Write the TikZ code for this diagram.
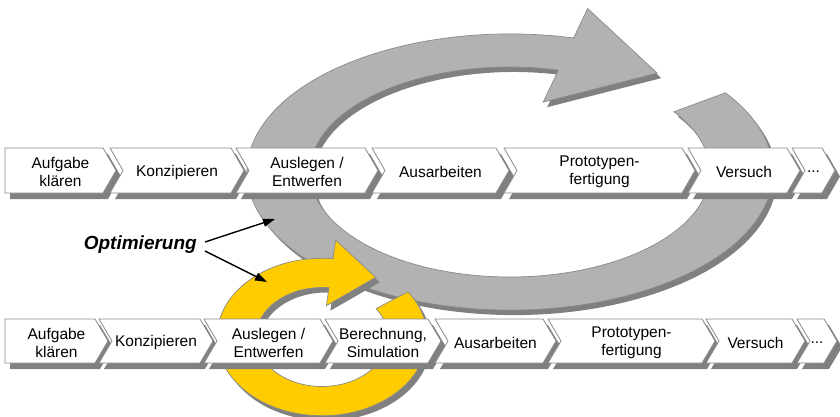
\documentclass[tikz,border=0pt]{standalone}
\usepackage{fontspec}
\setmainfont{Liberation Sans}
\usetikzlibrary{arrows.meta}
\definecolor{ringgray}{HTML}{B2B2B2}
\definecolor{shadowgray}{HTML}{808080}
\definecolor{edgegray}{HTML}{8A8A8A}
\definecolor{ringyellow}{HTML}{FFCC00}
\tikzset{
  ringfill/.style={fill=ringgray, draw=edgegray, line width=0.7pt},
  yellowfill/.style={fill=ringyellow, draw=edgegray, line width=0.7pt},
  shadowfill/.style={fill=shadowgray},
  boxfill/.style={fill=white, draw=edgegray, line width=0.8pt},
  boxtext/.style={align=center, font=\fontsize{15.5}{18}\selectfont, inner sep=0pt},
  opttext/.style={font=\fontsize{19}{22}\selectfont\bfseries\itshape, inner sep=0pt},
  optarrow/.style={line width=1.4pt, -{Triangle[length=12pt,width=8pt]}},
  graycs/.style={shift={(510,172)}, yscale=0.525},
  yellowcs/.style={shift={(322,337)}, yscale=0.75},
  ringshadow/.style={shift={(4,5)}},
  boxshadow/.style={shift={(5,6)}},
}
% name, left x, right-top x, top y, bottom y, notch depth, text
\newcommand\chevbox[7]{%
  \fill[shadowfill, boxshadow] (#2,#4) -- (#3,#4) -- ({#3+13},{(#4+#5)/2}) -- (#3,#5) -- (#2,#5) -- ({#2+#6},{(#4+#5)/2}) -- cycle;
  \draw[boxfill] (#2,#4) -- (#3,#4) -- ({#3+13},{(#4+#5)/2}) -- (#3,#5) -- (#2,#5) -- ({#2+#6},{(#4+#5)/2}) -- cycle;
  \node[boxtext] (#1) at ({(#2+#3+13)/2},{(#4+#5)/2+1.5}) {#7};
}
\newcommand\grayringpath{(-35:263) arc[start angle=-35, end angle=284, radius=263] -- (284:321) -- (-52:239) -- (284:137) -- (284:200) arc[start angle=284, end angle=-35, radius=200] -- cycle}
\newcommand\yellowringpath{(-35:105) arc[start angle=-35, end angle=276, radius=105] -- (276:130) -- (-56:96) -- (276:42) -- (276:66) arc[start angle=276, end angle=-35, radius=66] -- cycle}
\begin{document}
\begin{tikzpicture}[x=1pt, y=-1pt]
\useasboundingbox (0,0) rectangle (840,417);
% big grey cycle
\fill[shadowfill, ringshadow, graycs] \grayringpath;
\draw[ringfill, graycs] \grayringpath;
% yellow cycle
\fill[shadowfill, ringshadow, yellowcs] \yellowringpath;
\draw[yellowfill, yellowcs] \yellowringpath;
% top process row
\chevbox{t1}{5}{103}{148}{193}{0}{Aufgabe\\klären}
\chevbox{t2}{110}{231}{148}{193}{13}{Konzipieren}
\chevbox{t3}{236}{365}{148}{193}{13}{Auslegen /\\Entwerfen}
\chevbox{t4}{372}{496}{148}{193}{13}{Ausarbeiten}
\chevbox{t5}{504}{682}{148}{193}{13}{Prototypen-\\fertigung}
\chevbox{t6}{688}{787}{148}{193}{13}{Versuch}
\chevbox{t7}{792}{822}{148}{193}{13}{...}
% bottom process row
\chevbox{b1}{5}{95}{319}{363}{0}{Aufgabe\\klären}
\chevbox{b2}{99}{200}{319}{363}{13}{Konzipieren}
\chevbox{b3}{204}{320}{319}{363}{13}{Auslegen /\\Entwerfen}
\chevbox{b4}{325}{428}{319}{363}{13}{Berechnung,\\Simulation}
\chevbox{b5}{435}{543}{319}{363}{13}{Ausarbeiten}
\chevbox{b6}{548}{702}{319}{363}{13}{Prototypen-\\fertigung}
\chevbox{b7}{706}{792}{319}{363}{13}{Versuch}
\chevbox{b8}{797}{824}{319}{363}{13}{...}
% label and pointers
\node[opttext, anchor=east] (opt) at (197,245) {Optimierung};
\coordinate (grayhit) at (275,219);
\coordinate (yellowhit) at (267,282);
\draw[optarrow] ([shift={(8,-3)}]opt.east) -- (grayhit);
\draw[optarrow] ([shift={(8,6)}]opt.east) -- (yellowhit);
\end{tikzpicture}
\end{document}
